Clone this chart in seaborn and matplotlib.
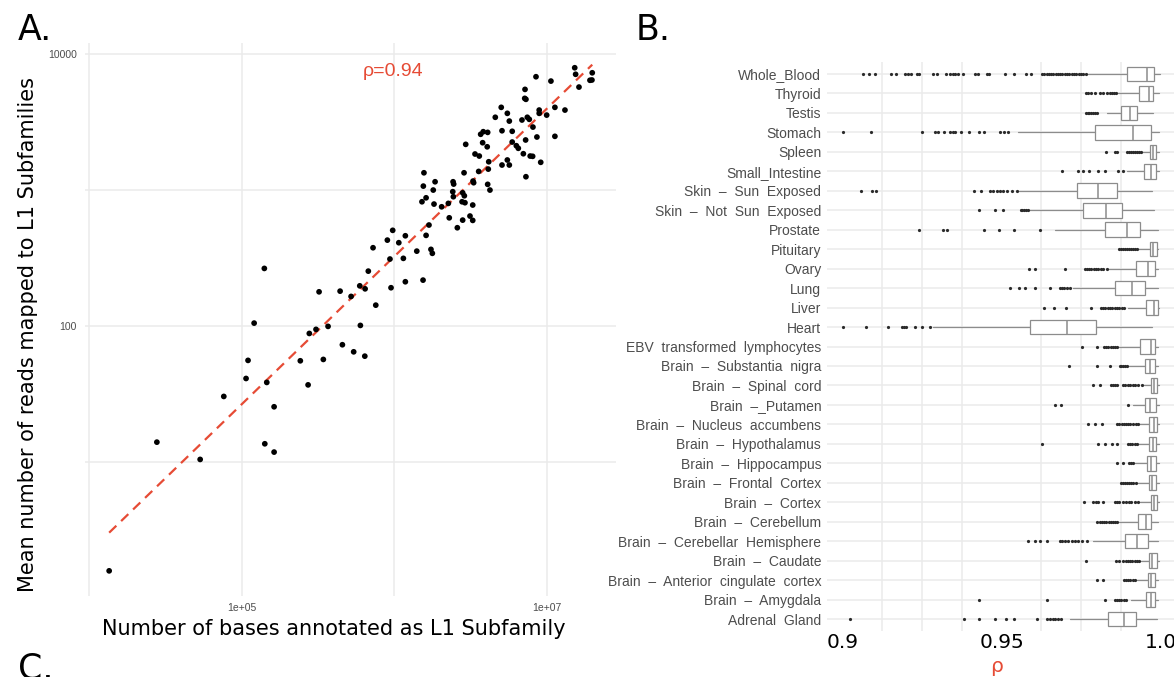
import numpy as np
import pandas as pd
import matplotlib
matplotlib.use("Agg")
import matplotlib.pyplot as plt
from matplotlib.ticker import FixedLocator, NullFormatter
import seaborn as sns

# ---------------- Panel A data (log10 values) ----------------
log10_bases = [7.184, 7.190, 7.299, 7.297, 7.284, 7.212, 6.930, 7.028, 6.858, 6.856,
               6.864, 7.054, 7.120, 6.951, 6.951, 7.000, 6.702, 6.742, 6.663, 6.755,
               6.873, 6.838, 6.886, 6.910, 6.707, 6.774, 6.862, 6.936, 7.054, 6.584,
               6.613, 6.567, 6.580, 6.610, 6.469, 6.774, 6.801, 6.814, 6.847, 6.892,
               6.908, 6.961, 6.864, 6.742, 6.755, 6.707, 6.620, 6.617, 6.530, 6.558,
               6.554, 6.517, 6.521, 6.458, 6.613, 6.628, 6.195, 6.191, 6.268, 6.256,
               6.209, 6.182, 6.261, 6.386, 6.390, 6.384, 6.388, 6.355, 6.311, 6.449,
               6.460, 6.445, 6.464, 6.515, 6.361, 6.497, 6.515, 6.449, 6.414, 6.228,
               6.209, 6.073, 6.148, 6.060, 6.241, 6.250, 6.073, 6.189,
               5.148, 5.507, 5.645, 5.717, 5.774, 5.809, 5.830, 5.861, 5.955, 5.990,
               6.030, 5.972, 5.979,
               4.130, 4.443, 4.727, 4.882, 5.028, 5.041, 5.081, 5.164, 5.212, 5.151,
               5.212, 5.384, 5.435, 5.443, 5.487, 5.535, 5.566, 5.660, 5.734, 5.778,
               5.807, 5.879]
log10_reads = [3.899, 3.851, 3.862, 3.809, 3.807, 3.757, 3.833, 3.801, 3.740, 3.674,
               3.667, 3.608, 3.588, 3.588, 3.564, 3.551, 3.608, 3.564, 3.535, 3.507,
               3.535, 3.515, 3.520, 3.463, 3.436, 3.432, 3.368, 3.390, 3.395, 3.429,
               3.424, 3.410, 3.348, 3.318, 3.336, 3.353, 3.326, 3.307, 3.267, 3.250,
               3.248, 3.204, 3.098, 3.221, 3.184, 3.184, 3.208, 3.154, 3.265, 3.250,
               3.137, 3.066, 3.054, 3.127, 3.042, 3.000, 3.127, 3.029, 3.061, 3.000,
               2.943, 2.914, 2.897, 3.061, 3.044, 2.988, 2.951, 2.902, 2.877, 2.980,
               2.958, 2.914, 2.907, 2.890, 2.796, 2.809, 2.777, 2.779, 2.723, 2.743,
               2.667, 2.664, 2.551, 2.498, 2.564, 2.535, 2.326, 2.338,
               2.424, 2.252, 2.257, 2.218, 2.296, 2.274, 2.404, 2.576, 2.632, 2.704,
               2.613, 2.493, 2.282,
               0.201, 1.147, 1.020, 1.483, 1.615, 1.748, 2.022, 1.586, 1.407, 1.135,
               1.074, 1.745, 1.568, 1.946, 1.976, 1.755, 1.998, 1.863, 1.811, 2.005,
               1.779, 2.154]
rho_label = "ρ=0.94"
xticks_A = [1e5, 1e7]
xticklabels_A = ["1e+05", "1e+07"]
yticks_A = [100, 10000]
yticklabels_A = ["100", "10000"]

# ---------------- Panel B data (box statistics) ----------------
tissues = ["Whole_Blood", "Thyroid", "Testis", "Stomach", "Spleen", "Small_Intestine",
           "Skin  –  Sun  Exposed", "Skin  –  Not  Sun  Exposed", "Prostate", "Pituitary",
           "Ovary", "Lung", "Liver", "Heart", "EBV  transformed  lymphocytes",
           "Brain  –  Substantia  nigra", "Brain  –  Spinal  cord", "Brain  –_Putamen",
           "Brain  –  Nucleus  accumbens", "Brain  –  Hypothalamus", "Brain  –  Hippocampus",
           "Brain  –  Frontal  Cortex", "Brain  –  Cortex", "Brain  –  Cerebellum",
           "Brain  –  Cerebellar  Hemisphere", "Brain  –  Caudate",
           "Brain  –  Anterior  cingulate  cortex", "Brain  –  Amygdala", "Adrenal  Gland"]
whislo = [0.9772, 0.9867, 0.9830, 0.9552, 0.9940, 0.9893, 0.9555, 0.9587, 0.9669, 0.9930,
          0.9838, 0.9723, 0.9896, 0.9283, 0.9870, 0.9901, 0.9947, 0.9913, 0.9930, 0.9930,
          0.9919, 0.9928, 0.9936, 0.9870, 0.9786, 0.9939, 0.9924, 0.9907, 0.9714]
q1 = [0.9895, 0.9932, 0.9874, 0.9792, 0.9966, 0.9948, 0.9736, 0.9757, 0.9826, 0.9965,
      0.9922, 0.9855, 0.9953, 0.9588, 0.9936, 0.9951, 0.9970, 0.9951, 0.9962, 0.9962,
      0.9957, 0.9962, 0.9970, 0.9930, 0.9887, 0.9962, 0.9959, 0.9953, 0.9835]
med = [0.9956, 0.9964, 0.9903, 0.9914, 0.9975, 0.9970, 0.9802, 0.9829, 0.9893, 0.9976,
       0.9961, 0.9909, 0.9978, 0.9705, 0.9970, 0.9967, 0.9980, 0.9965, 0.9978, 0.9976,
       0.9970, 0.9974, 0.9980, 0.9953, 0.9924, 0.9974, 0.9970, 0.9968, 0.9884]
q3 = [0.9980, 0.9977, 0.9925, 0.9969, 0.9985, 0.9984, 0.9862, 0.9878, 0.9934, 0.9988,
      0.9982, 0.9950, 0.9991, 0.9795, 0.9982, 0.9982, 0.9988, 0.9985, 0.9988, 0.9985,
      0.9985, 0.9985, 0.9988, 0.9970, 0.9961, 0.9988, 0.9982, 0.9982, 0.9921]
whishi = [0.9998, 0.9996, 0.9977, 0.9996, 0.9996, 0.9996, 0.9972, 0.9978, 0.9990, 0.9993,
          0.9993, 0.9993, 0.9996, 0.9973, 0.9993, 0.9993, 0.9995, 0.9995, 0.9995, 0.9995,
          0.9995, 0.9995, 0.9995, 0.9993, 0.9990, 0.9995, 0.9993, 0.9993, 0.9988]
outliers = [
    [0.9065, 0.9084, 0.9102, 0.9151, 0.9168, 0.9196, 0.9206, 0.9214, 0.9233, 0.9240,
     0.9285, 0.9297, 0.9325, 0.9337, 0.9346, 0.9353, 0.9364, 0.9377, 0.9416, 0.9426,
     0.9453, 0.9461, 0.9510, 0.9539, 0.9575, 0.9591, 0.9626, 0.9633, 0.9641, 0.9648,
     0.9655, 0.9662, 0.9670, 0.9677, 0.9684, 0.9691, 0.9699, 0.9706, 0.9713, 0.9720,
     0.9728, 0.9735, 0.9742, 0.9750, 0.9757, 0.9764],
    [0.9764, 0.9771, 0.9782, 0.9793, 0.9809, 0.9819, 0.9832, 0.9840, 0.9848, 0.9853, 0.9860],
    [0.9765, 0.9770, 0.9775, 0.9780, 0.9786, 0.9792, 0.9799],
    [0.9000, 0.9088, 0.9248, 0.9290, 0.9301, 0.9319, 0.9337, 0.9346, 0.9353, 0.9371,
     0.9398, 0.9430, 0.9444, 0.9495, 0.9507, 0.9521],
    [0.9828, 0.9857, 0.9864, 0.9895, 0.9901, 0.9907, 0.9913, 0.9920, 0.9926, 0.9933, 0.9937],
    [0.9691, 0.9739, 0.9757, 0.9776, 0.9802, 0.9825, 0.9867, 0.9882],
    [0.9057, 0.9091, 0.9105, 0.9414, 0.9435, 0.9463, 0.9474, 0.9484, 0.9495, 0.9503,
     0.9516, 0.9531, 0.9547],
    [0.9430, 0.9479, 0.9504, 0.9561, 0.9565, 0.9570, 0.9575, 0.9582],
    [0.9240, 0.9314, 0.9328, 0.9444, 0.9492, 0.9538, 0.9621],
    [0.9870, 0.9876, 0.9882, 0.9889, 0.9895, 0.9901, 0.9907, 0.9914, 0.9920, 0.9926],
    [0.9585, 0.9604, 0.9700, 0.9761, 0.9768, 0.9775, 0.9782, 0.9790, 0.9797, 0.9804,
     0.9811, 0.9818, 0.9832],
    [0.9527, 0.9553, 0.9573, 0.9604, 0.9653, 0.9682, 0.9690, 0.9697, 0.9704, 0.9714],
    [0.9634, 0.9665, 0.9703, 0.9780, 0.9811, 0.9818, 0.9826, 0.9833, 0.9841, 0.9848,
     0.9855, 0.9862, 0.9870, 0.9877, 0.9886],
    [0.9000, 0.9074, 0.9144, 0.9187, 0.9192, 0.9199, 0.9227, 0.9248, 0.9274],
    [0.9754, 0.9800, 0.9821, 0.9828, 0.9835, 0.9843, 0.9850, 0.9856, 0.9862],
    [0.9711, 0.9801, 0.9842, 0.9872, 0.9876, 0.9882, 0.9888, 0.9894],
    [0.9788, 0.9809, 0.9844, 0.9850, 0.9857, 0.9864, 0.9880, 0.9888, 0.9896, 0.9904,
     0.9912, 0.9920, 0.9930, 0.9940],
    [0.9668, 0.9686, 0.9896],
    [0.9771, 0.9792, 0.9815, 0.9864, 0.9870, 0.9877, 0.9884, 0.9891, 0.9898, 0.9905,
     0.9912, 0.9921, 0.9928],
    [0.9627, 0.9803, 0.9826, 0.9847, 0.9863, 0.9896, 0.9903, 0.9911, 0.9919, 0.9926],
    [0.9864, 0.9882, 0.9901, 0.9907, 0.9914],
    [0.9876, 0.9882, 0.9888, 0.9895, 0.9901, 0.9908, 0.9914, 0.9922],
    [0.9760, 0.9786, 0.9795, 0.9804, 0.9817, 0.9855, 0.9862, 0.9870, 0.9880, 0.9890,
     0.9899, 0.9908, 0.9918, 0.9928],
    [0.9801, 0.9808, 0.9815, 0.9822, 0.9829, 0.9836, 0.9843, 0.9850, 0.9857, 0.9864],
    [0.9582, 0.9605, 0.9619, 0.9644, 0.9682, 0.9691, 0.9700, 0.9710, 0.9720, 0.9730,
     0.9741, 0.9751, 0.9769],
    [0.9766, 0.9859, 0.9870, 0.9880, 0.9890, 0.9897, 0.9904, 0.9911, 0.9918, 0.9925, 0.9932],
    [0.9801, 0.9817, 0.9884, 0.9890, 0.9897, 0.9904, 0.9912, 0.9918],
    [0.9429, 0.9642, 0.9824, 0.9855, 0.9862, 0.9869, 0.9876, 0.9884, 0.9890],
    [0.9024, 0.9381, 0.9429, 0.9479, 0.9515, 0.9538, 0.9611, 0.9644, 0.9652, 0.9660,
     0.9668, 0.9677, 0.9688],
]
xticks_B = [0.9, 0.95, 1.0]
xticklabels_B = ["0.9", "0.95", "1.0"]
xgrid_B = [0.9, 0.9125, 0.925, 0.9375, 0.95, 0.9625, 0.975, 0.9875, 1.0]

# ---------------- styling ----------------
sns.set_theme(style="white")
plt.rcParams['font.family'] = ['DejaVu Sans']
plt.rcParams['text.color'] = 'black'
RED = "#E64B35"
GRID = "#ebebeb"
TICKGREY = "#4d4d4d"

W, H = 1174, 677
fig = plt.figure(figsize=(W / 100, H / 100), dpi=100)
fig.patch.set_facecolor("white")

def fx(px):
    return px / W

def fy(py):
    return 1 - py / H

# ---------------- Panel A ----------------
axA = fig.add_axes([fx(85), fy(596), fx(616.4) - fx(85), fy(42.6) - fy(596)])
df = pd.DataFrame({"bases": 10 ** np.array(log10_bases), "reads": 10 ** np.array(log10_reads)})
axA.set_xscale("log")
axA.set_yscale("log")
sns.scatterplot(data=df, x="bases", y="reads", ax=axA, color="black", s=17,
                edgecolor="none", linewidth=0, zorder=3)
lx = np.log10(df["bases"].values)
ly = np.log10(df["reads"].values)
slope, intercept = np.polyfit(lx, ly, 1)
xs = np.linspace(lx.min(), lx.max(), 50)
axA.plot(10 ** xs, 10 ** (slope * xs + intercept), color=RED, lw=1.6,
         dashes=(4.5, 3.0), zorder=2)
xr = lx.max() - lx.min()
yr = ly.max() - ly.min()
axA.set_xlim(10 ** (lx.min() - 0.05 * xr), 10 ** (lx.max() + 0.05 * xr))
axA.set_ylim(10 ** (ly.min() - 0.05 * yr), 10 ** (ly.max() + 0.05 * yr))
axA.xaxis.set_major_locator(FixedLocator(xticks_A))
axA.xaxis.set_minor_locator(FixedLocator([1e4, 1e6]))
axA.yaxis.set_major_locator(FixedLocator(yticks_A))
axA.yaxis.set_minor_locator(FixedLocator([10, 1000]))
axA.xaxis.set_minor_formatter(NullFormatter())
axA.yaxis.set_minor_formatter(NullFormatter())
axA.set_xticklabels(xticklabels_A, family="Liberation Sans", fontsize=7.5, color=TICKGREY)
axA.set_yticklabels(yticklabels_A, family="Liberation Sans", fontsize=7.5, color=TICKGREY)
axA.tick_params(axis="both", which="both", length=0)
axA.tick_params(axis="x", pad=5)
axA.tick_params(axis="y", pad=6)
axA.grid(True, which="both", color=GRID, lw=1.1)
axA.set_axisbelow(True)
for s in axA.spines.values():
    s.set_visible(False)
axA.set_xlabel("Number of bases annotated as L1 Subfamily", fontsize=15, color="black")
axA.set_ylabel("Mean number of reads mapped to L1 Subfamilies", fontsize=15, color="black")
axA.xaxis.set_label_coords((334 - 85) / 531.4, -(629 - 596) / 553.4)
axA.yaxis.set_label_coords((28 - 85) / 531.4, 1 - (335 - 42.6) / 553.4)
axA.xaxis.label.set_va("center")
axA.yaxis.label.set_va("center")
axA.text((393.5 - 85) / 531.4, 1 - (72 - 42.6) / 553.4, rho_label, transform=axA.transAxes,
         ha="center", va="center", color=RED, fontsize=14, family="Liberation Sans")

# ---------------- Panel B ----------------
axB = fig.add_axes([fx(826.7), fy(630.7), fx(1174) - fx(826.7), fy(62.3) - fy(630.7)])
stats = []
for i, name in enumerate(tissues):
    stats.append(dict(label=name, whislo=whislo[i], q1=q1[i], med=med[i], q3=q3[i],
                      whishi=whishi[i], fliers=outliers[i]))
BOXC = "#8c8c8c"
kw = dict(positions=list(range(len(tissues))), widths=0.75, showcaps=False,
          patch_artist=True,
          boxprops=dict(facecolor="white", edgecolor=BOXC, linewidth=0.9),
          medianprops=dict(color=BOXC, linewidth=1.1),
          whiskerprops=dict(color=BOXC, linewidth=0.9),
          flierprops=dict(marker="o", markersize=2.3, markerfacecolor="#2b2b2b",
                          markeredgecolor="none", linestyle="none"),
          manage_ticks=False, zorder=3)
try:
    axB.bxp(stats, orientation="horizontal", **kw)
except TypeError:
    axB.bxp(stats, vert=False, **kw)
axB.set_ylim(len(tissues) - 0.4, -0.6)
axB.set_xlim(0.9 + (826.7 - 842.7) / 3180, 0.9 + (1174 - 842.7) / 3180)
axB.set_yticks(range(len(tissues)))
axB.set_yticklabels(tissues, family="Liberation Sans", fontsize=10, color=TICKGREY)
axB.set_xticks(xticks_B)
axB.set_xticklabels(xticklabels_B, fontsize=14.5, color="black")
axB.xaxis.set_minor_locator(FixedLocator(xgrid_B))
axB.tick_params(axis="both", which="both", length=0)
axB.tick_params(axis="y", pad=4)
axB.tick_params(axis="x", pad=2)
axB.grid(True, axis="x", which="minor", color=GRID, lw=1.1)
axB.grid(True, axis="y", which="major", color=GRID, lw=1.1)
axB.set_axisbelow(True)
for s in axB.spines.values():
    s.set_visible(False)
axB.set_xlabel("ρ", color=RED, fontsize=14.5)
axB.xaxis.set_label_coords((996.7 - 826.7) / 347.3, -(666.7 - 630.7) / 568.4)
axB.xaxis.label.set_va("center")

# ---------------- panel letters ----------------
fig.text(fx(18), fy(40), "A.", fontsize=25, va="baseline", ha="left", color="black")
fig.text(fx(636), fy(40), "B.", fontsize=25, va="baseline", ha="left", color="black")
fig.text(fx(18), fy(678), "C.", fontsize=25, va="baseline", ha="left", color="black")

fig.savefig("out.png", dpi=100, facecolor="white")
